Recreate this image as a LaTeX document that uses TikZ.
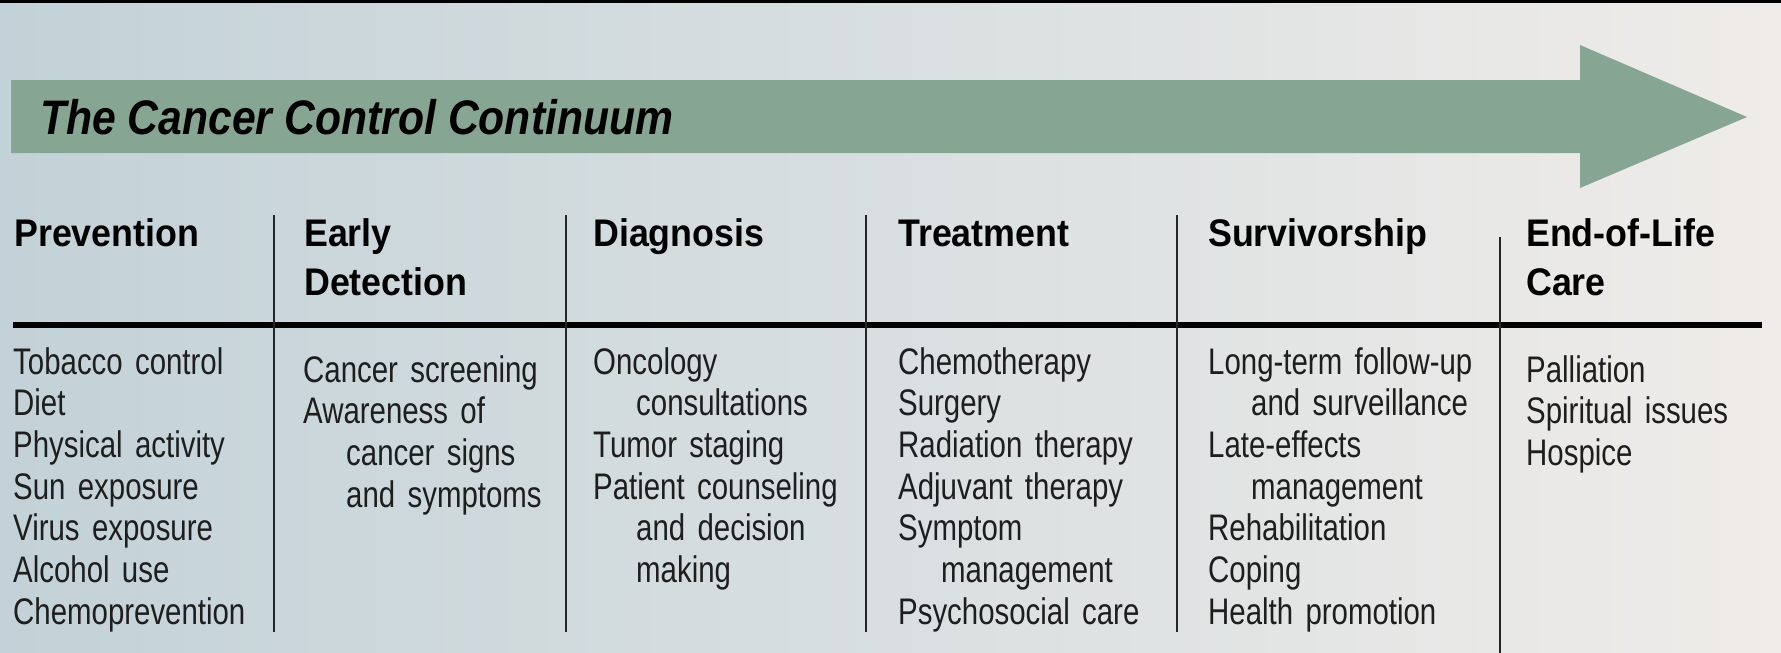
\documentclass[tikz,border=0pt]{standalone}
\usepackage{fontspec}
\setmainfont{Liberation Sans}
\newfontfamily\headfont[FakeStretch=0.93]{Liberation Sans}
\newfontfamily\bodyfont[FakeStretch=0.795]{Liberation Sans}
\newfontfamily\titlefont[FakeStretch=0.88]{Liberation Sans}
\definecolor{arrowgreen}{RGB}{134,165,146}
\definecolor{bgL}{RGB}{195,210,216}
\definecolor{bgM}{RGB}{226,228,228}
\definecolor{bgR}{RGB}{239,236,233}
\definecolor{bodytext}{RGB}{30,30,30}
\newcommand{\ind}{\hspace*{43pt}}
\tikzset{
  headtxt/.style={anchor=base west, inner sep=0pt, text width=300pt, align=left,
    font=\headfont\bfseries\fontsize{38.5}{49.5}\selectfont, text=black},
  bodytxt/.style={anchor=base west, inner sep=0pt, text width=300pt, align=left,
    font=\bodyfont\fontsize{37}{41.7}\selectfont, text=bodytext},
  divider/.style={line width=1.8pt, draw=black!85},
  rule/.style={line width=5.5pt, draw=black}
}
\begin{document}
\begin{tikzpicture}[x=1pt,y=-1pt]
\useasboundingbox (0,0) rectangle (1781,653);
\shade[left color=bgL, middle color=bgM, right color=bgR] (0,0) rectangle (1781,653);
\fill[black] (0,0) rectangle (1781,3);
% arrow
\fill[arrowgreen] (11,80) -- (1580,80) -- (1580,45) -- (1747,117) -- (1580,188) -- (1580,153) -- (11,153) -- cycle;
\node[anchor=base west, inner sep=0pt, font=\titlefont\bfseries\itshape\fontsize{48.5}{50}\selectfont] (title) at (40,134) {The Cancer Control Continuum};
% rule and dividers
\draw[rule] (13,325) -- (1762,325);
\draw[divider] (274,215) -- (274,632);
\draw[divider] (566,215) -- (566,632);
\draw[divider] (866,215) -- (866,632);
\draw[divider] (1177,215) -- (1177,632);
\draw[divider] (1500,237) -- (1500,653);
% headings
\node[headtxt] (h1) at (14,246) {Prevention};
\node[headtxt] (h2) at (304,246) {Early\\Detection};
\node[headtxt] (h3) at (593,246) {Diagnosis};
\node[headtxt] (h4) at (898,246) {Treatment};
\node[headtxt] (h5) at (1208,246) {Survivorship};
\node[headtxt] (h6) at (1526,246) {End-of-Life\\Care};
% bodies
\node[bodytxt] (b1) at (13,374) {Tobacco control\\Diet\\Physical activity\\Sun exposure\\Virus exposure\\Alcohol use\\Chemoprevention};
\node[bodytxt] (b2) at (303,382) {Cancer screening\\Awareness of\\\ind cancer signs\\\ind and symptoms};
\node[bodytxt] (b3) at (593,374) {Oncology\\\ind consultations\\Tumor staging\\Patient counseling\\\ind and decision\\\ind making};
\node[bodytxt] (b4) at (898,374) {Chemotherapy\\Surgery\\Radiation therapy\\Adjuvant therapy\\Symptom\\\ind management\\Psychosocial care};
\node[bodytxt] (b5) at (1208,374) {Long-term follow-up\\\ind and surveillance\\Late-effects\\\ind management\\Rehabilitation\\Coping\\Health promotion};
\node[bodytxt] (b6) at (1526,382) {Palliation\\Spiritual issues\\Hospice};
\end{tikzpicture}
\end{document}
